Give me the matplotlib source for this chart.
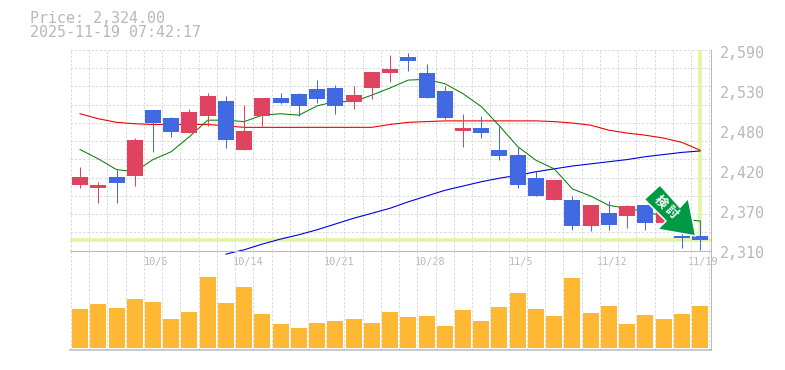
import numpy as np
import matplotlib
matplotlib.use("Agg")
import matplotlib.pyplot as plt
from matplotlib.patches import Polygon

nan = np.nan

# candles
opens = [2401, 2397, 2412, 2414, 2506, 2495, 2474, 2498, 2519, 2451, 2498, 2523,
         2528, 2535, 2537, 2517, 2537, 2558, 2580, 2558, 2533, 2477, 2481, 2451,
         2443, 2411, 2380, 2380, 2344, 2362, 2358, 2374, 2349, 2330, 2330]
closes = [2412, 2402, 2404, 2465, 2488, 2475, 2503, 2526, 2465, 2477, 2523, 2516,
          2512, 2521, 2512, 2527, 2559, 2563, 2575, 2523, 2495, 2481, 2474, 2442,
          2401, 2386, 2408, 2344, 2373, 2345, 2372, 2349, 2372, 2328, 2324]
highs = [2426, 2405, 2422, 2467, 2506, 2496, 2507, 2530, 2526, 2513, 2523, 2530,
         2530, 2548, 2541, 2540, 2559, 2583, 2586, 2570, 2540, 2500, 2498, 2484,
         2454, 2421, 2409, 2386, 2373, 2379, 2374, 2374, 2372, 2345, 2352]
lows = [2397, 2377, 2376, 2400, 2447, 2468, 2474, 2484, 2453, 2451, 2484, 2514,
        2498, 2516, 2500, 2507, 2521, 2545, 2561, 2523, 2493, 2454, 2467, 2437,
        2397, 2386, 2380, 2339, 2337, 2338, 2341, 2338, 2349, 2313, 2311]

ma_short = [2451, 2438, 2423, 2420, 2437, 2448, 2469, 2492, 2492, 2490, 2499, 2501,
            2499, 2512, 2518, 2518, 2527, 2537, 2548, 2549, 2543, 2529, 2511, 2484,
            2455, 2436, 2424, 2396, 2386, 2373, 2369, 2364, 2358, 2354, 2351]
ma_mid = [2501, 2494, 2489, 2487, 2486, 2486, 2486, 2486, 2484, 2482, 2482, 2482,
          2482, 2482, 2482, 2482, 2482, 2486, 2489, 2490, 2491, 2491, 2491, 2491,
          2491, 2491, 2490, 2488, 2485, 2478, 2474, 2471, 2467, 2461, 2450]
ma_long = [nan, nan, nan, nan, nan, nan, nan, nan, 2305, 2311, 2319, 2326,
           2332, 2339, 2347, 2355, 2362, 2369, 2378, 2386, 2394, 2400, 2406, 2411,
           2415, 2420, 2424, 2428, 2431, 2434, 2437, 2441, 2444, 2447, 2449]

volumes = [39, 44, 40, 49, 46, 29, 36, 71, 45, 61, 34, 24, 20, 25, 27, 29, 25, 36,
           31, 32, 22, 38, 27, 41, 55, 39, 32, 70, 35, 42, 24, 33, 29, 34, 42]

price_ticks = [2590, 2534, 2478, 2422, 2366, 2310]
price_labels = ["2,590", "2,530", "2,480", "2,420", "2,370", "2,310"]
date_pos = [4, 9, 14, 19, 24, 29, 34]
date_labels = ["10/6", "10/14", "10/21", "10/28", "11/5", "11/12", "11/19"]
last_price = 2324

RED = "#e04360"
BLUE = "#4169e1"
GRAY = "#b8b8b8"
GRID = "#dcdcdc"
YELLOW = "#e2f5a0"
ORANGE = "#ffb833"
W, H = 785, 370
PX = 0.72  # one pixel in points


def px_axes(left, top, right, bottom):
    return fig.add_axes([left / W, 1 - bottom / H, (right - left) / W, (bottom - top) / H])


fig = plt.figure(figsize=(W / 100, H / 100), dpi=100, facecolor="white")
ax = px_axes(70, 50, 710.5, 250.5)
vol = px_axes(70, 250.5, 710.5, 350)

x = np.arange(len(opens))
xlim = (-0.55, 34.57)
grid_x = np.arange(36) - 0.5
dash = (0, (2.6, 1.6))

for a in (ax, vol):
    a.set_xlim(xlim)
    a.set_xticks([])
    a.set_yticks([])
    a.patch.set_alpha(0)
    for s in a.spines.values():
        s.set_visible(False)
    a.vlines(grid_x, 0, 1, transform=a.get_xaxis_transform(), color=GRID, lw=PX,
             linestyles=dash, zorder=0)

ax.set_ylim(2310, 2590)
ax.hlines(np.linspace(2310, 2590, 12), 0, 1, transform=ax.get_yaxis_transform(), color=GRID,
          lw=PX, linestyles=dash, zorder=0)

# last price cross
ax.axhline(last_price, color=YELLOW, lw=3.6 * PX, zorder=1)
ax.plot([34, 34], [last_price, 2590], color=YELLOW, lw=3.6 * PX, zorder=1)

ax.plot(x, ma_long, color="#0000dd", lw=1.1 * PX, zorder=2, clip_on=False)
ax.plot(x, ma_mid, color="#ee0000", lw=1.1 * PX, zorder=2)
ax.plot(x, ma_short, color="#007a00", lw=PX, zorder=2)

colors = [RED if c >= o else BLUE for o, c in zip(opens, closes)]
ax.vlines(x, lows, highs, color=colors, lw=PX, zorder=3)
bottoms = np.minimum(opens, closes)
tops = np.maximum(opens, closes)
ax.bar(x, tops - bottoms, bottom=bottoms, width=16 / 18.24, color=colors, zorder=4, antialiased=False)

# green arrow, offsets in pixels from its tip near the last candle
arrow_pts = np.array([[-35.7, -51], [-51.4, -36.7], [-29.7, -15], [-38, -6.7], [0, 0],
                      [-7.4, -37.7], [-15.7, -28.7]])
tip_x, tip_y = 695.7, 236
arrow_xy = ax.transData.inverted().transform(
    np.column_stack([tip_x + arrow_pts[:, 0], H - (tip_y + arrow_pts[:, 1])]))
ax.add_patch(Polygon(arrow_xy, closed=True, facecolor="#009944", edgecolor="white", lw=1.1,
                     zorder=6, clip_on=False))
badge_font = ["Noto Sans CJK JP", "DejaVu Sans"]
fig.text(660.7 / W, 1 - 201.7 / H, "検", color="white", fontsize=9, fontweight="bold", rotation=-45,
         ha="center", va="center", family=badge_font, zorder=7)
fig.text(671.7 / W, 1 - 212 / H, "討", color="white", fontsize=9, fontweight="bold", rotation=-45,
         ha="center", va="center", family=badge_font, zorder=7)

# volume panel
vol.set_ylim(-2, 97.5)
vol.bar(x, volumes, width=16 / 18.24, color=ORANGE, zorder=2, antialiased=False)

# frame
ax.plot([0, 1], [0, 0], transform=ax.transAxes, color=GRAY, lw=PX, clip_on=False, zorder=5)
vol.plot([0, 1], [0, 0], transform=vol.transAxes, color=GRAY, lw=1.5 * PX, clip_on=False, zorder=5)
ax.plot([1, 1], [0, 1], transform=ax.transAxes, color=GRAY, lw=PX, clip_on=False, zorder=5)
vol.plot([1, 1], [0, 1], transform=vol.transAxes, color=GRAY, lw=PX, clip_on=False, zorder=5)

# tick labels
for tick, lab in zip(price_ticks, price_labels):
    ax.annotate(lab, (1, tick), xycoords=ax.get_yaxis_transform(), xytext=(9.5, -3.5),
                textcoords="offset pixels", color=GRAY, fontsize=10.8, family="DejaVu Sans Mono",
                ha="left", va="center", annotation_clip=False)
for pos, lab in zip(date_pos, date_labels):
    ax.annotate(lab, (pos, 0), xycoords=ax.get_xaxis_transform(), xytext=(3.5, -11),
                textcoords="offset pixels", color=GRAY, fontsize=7.4, family="DejaVu Sans Mono",
                ha="center", va="center", annotation_clip=False)

fig.text(30 / W, 1 - 18.5 / H, "Price: 2,324.00", color=GRAY, fontsize=10.8, family="DejaVu Sans Mono",
         ha="left", va="center")
fig.text(30 / W, 1 - 32.5 / H, "2025-11-19 07:42:17", color=GRAY, fontsize=10.8, family="DejaVu Sans Mono",
         ha="left", va="center")

fig.savefig("out.png", dpi=100)
